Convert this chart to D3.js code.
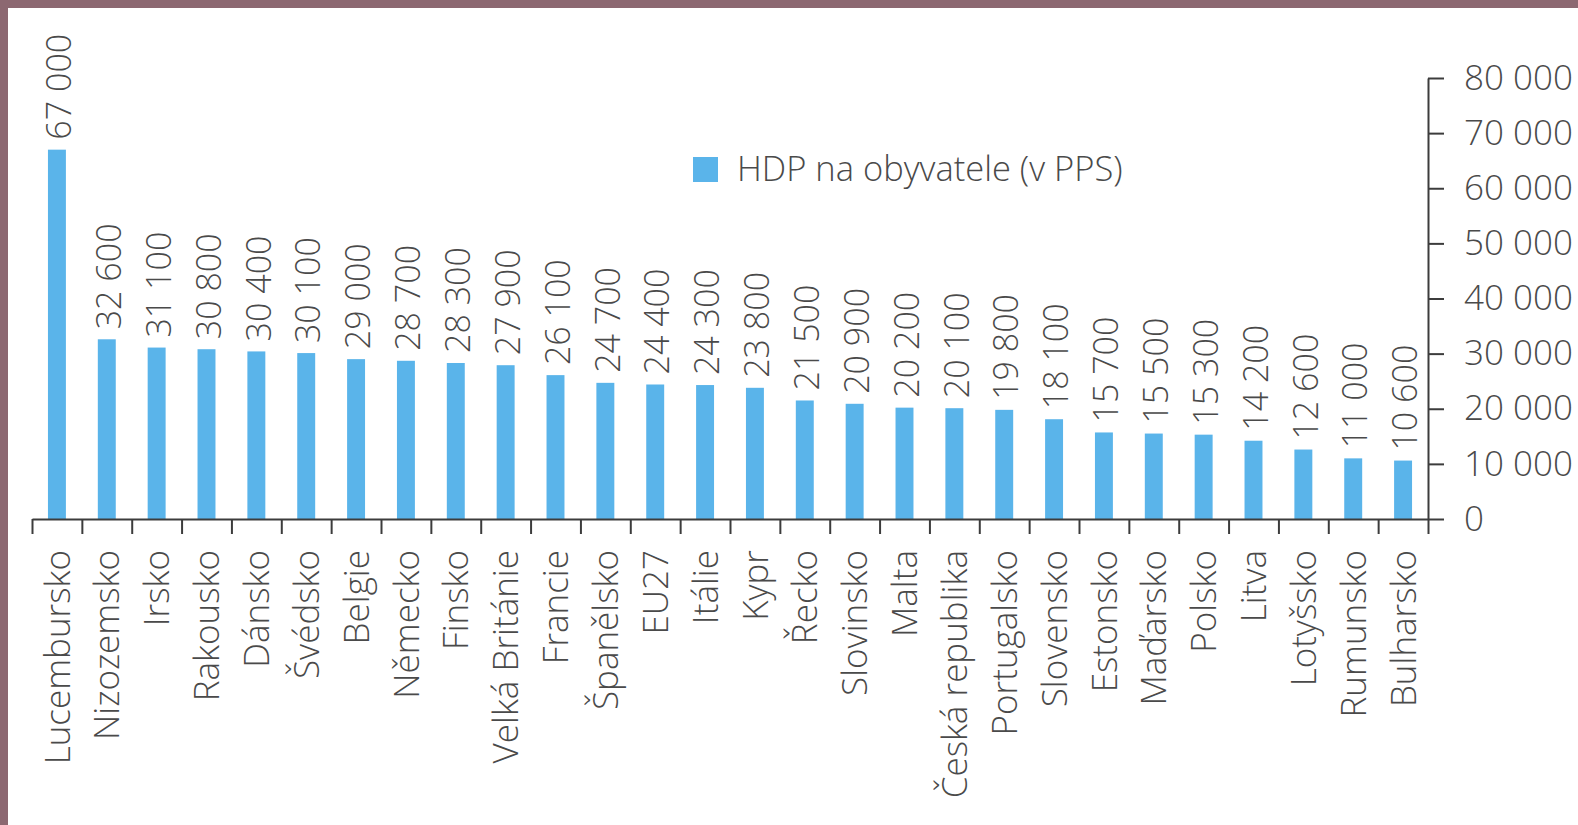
<!DOCTYPE html>
<html>
<head>
<meta charset="utf-8">
<script src="https://cdn.jsdelivr.net/npm/d3@7"></script>
<style>
body{margin:0;background:#fff;}
text{font-family:"Open Sans",sans-serif;font-weight:300;}
</style>
</head>
<body>
<div id="chart"></div>
<script>
var countries=["Lucembursko","Nizozemsko","Irsko","Rakousko","Dánsko","Švédsko","Belgie","Německo","Finsko","Velká Británie","Francie","Španělsko","EU27","Itálie","Kypr","Řecko","Slovinsko","Malta","Česká republika","Portugalsko","Slovensko","Estonsko","Maďarsko","Polsko","Litva","Lotyšsko","Rumunsko","Bulharsko"];
var hdp=[67000,32600,31100,30800,30400,30100,29000,28700,28300,27900,26100,24700,24400,24300,23800,21500,20900,20200,20100,19800,18100,15700,15500,15300,14200,12600,11000,10600];
var yTicks=[0,10000,20000,30000,40000,50000,60000,70000,80000];
var legendLabel="HDP na obyvatele (v PPS)";

var width=1578, height=825;
var plotLeft=32, plotRight=1428, base=519, plotTop=78;
var barColor="#5ab4ea", textColor="#4a4a4a", axisColor="#3c3c3c";

var fmt=d3.formatLocale({decimal:",",thousands:" ",grouping:[3],currency:["","Kč"]}).format(",");

var svg=d3.select("#chart").append("svg")
	.attr("width",width)
	.attr("height",height)
	.style("display","block");

svg.append("rect").attr("width",width).attr("height",height).attr("fill","#fff");
// frame of the page
svg.append("rect").attr("x",0).attr("y",0).attr("width",width).attr("height",8).attr("fill","#8c6871");
svg.append("rect").attr("x",0).attr("y",0).attr("width",8).attr("height",height).attr("fill","#8c6871");

//scales
var xscale=d3.scaleBand()
	.domain(countries)
	.range([plotLeft,plotRight])
	.paddingInner(0.64)
	.paddingOuter(0.32);
var edges=d3.scaleLinear().domain([0,countries.length]).range([plotLeft,plotRight]);
var yscale=d3.scaleLinear().domain([0,80000]).range([base,plotTop]);

//bars
svg.selectAll(".bar")
	.data(hdp)
	.enter().append("rect")
	.attr("class","bar")
	.attr("fill",barColor)
	.attr("x",function(d,i){ return xscale(countries[i]); })
	.attr("y",function(d){ return yscale(d); })
	.attr("width",xscale.bandwidth())
	.attr("height",function(d){ return base-yscale(d); });

//values above bars
svg.selectAll(".val")
	.data(hdp)
	.enter().append("text")
	.attr("class","val")
	.attr("transform",function(d,i){
		return "translate("+(xscale(countries[i])+xscale.bandwidth()/2)+","+(yscale(d)-10)+") rotate(-90)";
	})
	.attr("dy","0.42em")
	.attr("text-anchor","start")
	.attr("fill",textColor)
	.attr("font-size",34)
	.text(function(d){ return fmt(d); });

//x axis with ticks between the bars
var x_axis=d3.axisBottom(edges)
	.tickValues(d3.range(countries.length+1))
	.tickSize(15)
	.tickSizeOuter(0)
	.tickFormat("");
var gx=svg.append("g")
	.attr("transform","translate(0,"+base+")")
	.call(x_axis);
gx.selectAll("path,line").attr("stroke",axisColor).attr("stroke-width",2);

svg.selectAll(".cat")
	.data(countries)
	.enter().append("text")
	.attr("class","cat")
	.attr("transform",function(d){
		return "translate("+(xscale(d)+xscale.bandwidth()/2)+",550) rotate(-90)";
	})
	.attr("dy","0.36em")
	.attr("text-anchor","end")
	.attr("fill",textColor)
	.attr("font-size",35)
	.text(function(d){ return d; });

//y axis on the right
var y_axis=d3.axisRight(yscale)
	.tickValues(yTicks)
	.tickSize(16)
	.tickSizeOuter(0)
	.tickPadding(20)
	.tickFormat(fmt);
var gy=svg.append("g")
	.attr("transform","translate("+plotRight+",0)")
	.call(y_axis);
gy.selectAll("path,line").attr("stroke",axisColor).attr("stroke-width",2);
gy.selectAll("text")
	.attr("fill",textColor)
	.attr("font-size",35)
	.attr("font-family","Open Sans, sans-serif");

//legend
svg.append("rect")
	.attr("x",693).attr("y",157)
	.attr("width",25).attr("height",25)
	.attr("fill",barColor);
svg.append("text")
	.attr("x",737).attr("y",181)
	.attr("fill",textColor)
	.attr("font-size",34.5)
	.text(legendLabel);
</script>
</body>
</html>
